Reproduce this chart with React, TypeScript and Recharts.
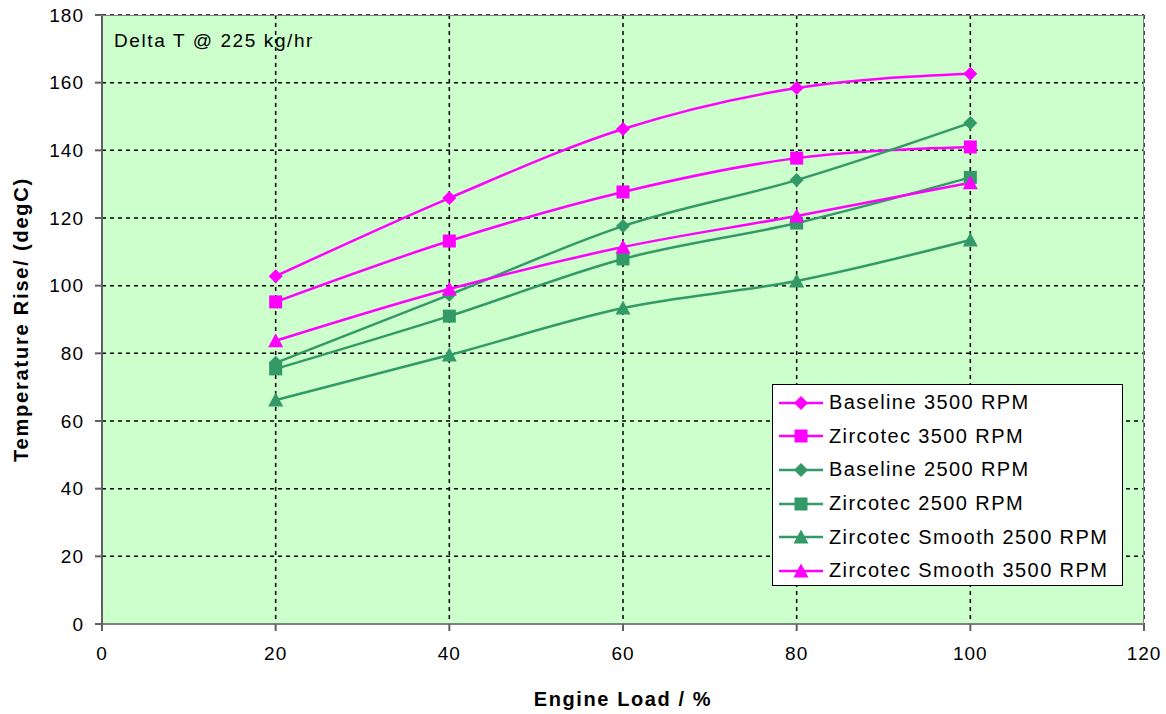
import {
  LineChart,
  Line,
  XAxis,
  YAxis,
  CartesianGrid,
  Label,
} from "recharts";

const loads = [20, 40, 60, 80, 100];
const baseline3500 = [102.8, 125.9, 146.3, 158.4, 162.6];
const zircotec3500 = [95.2, 113.2, 127.7, 137.7, 141.0];
const baseline2500 = [77.2, 97.3, 117.6, 131.2, 148.1];
const zircotec2500 = [75.4, 91.0, 107.9, 118.5, 132.0];
const smooth2500 = [66.2, 79.5, 93.4, 101.4, 113.5];
const smooth3500 = [83.7, 99.0, 111.4, 120.6, 130.4];

const xTicks = [0, 20, 40, 60, 80, 100, 120];
const yTicks = [0, 20, 40, 60, 80, 100, 120, 140, 160, 180];

const MAGENTA = "#ff00ff";
const GREEN = "#339966";
const FONT = "'Liberation Sans', Arial, sans-serif";

type Shape = "diamond" | "square" | "triangle";

const seriesDefs: { key: string; name: string; color: string; shape: Shape; values: number[] }[] = [
  { key: "b35", name: "Baseline 3500 RPM", color: MAGENTA, shape: "diamond", values: baseline3500 },
  { key: "z35", name: "Zircotec 3500 RPM", color: MAGENTA, shape: "square", values: zircotec3500 },
  { key: "b25", name: "Baseline 2500 RPM", color: GREEN, shape: "diamond", values: baseline2500 },
  { key: "z25", name: "Zircotec 2500 RPM", color: GREEN, shape: "square", values: zircotec2500 },
  { key: "s25", name: "Zircotec Smooth 2500 RPM", color: GREEN, shape: "triangle", values: smooth2500 },
  { key: "s35", name: "Zircotec Smooth 3500 RPM", color: MAGENTA, shape: "triangle", values: smooth3500 },
];

const data = loads.map((load, i) => {
  const row: Record<string, number> = { load };
  seriesDefs.forEach((s) => (row[s.key] = s.values[i]));
  return row;
});

function Marker({ cx, cy, shape, color }: { cx: number; cy: number; shape: Shape; color: string }) {
  if (cx == null || cy == null) return null;
  if (shape === "diamond") {
    const r = 7;
    return <polygon points={`${cx},${cy - r} ${cx + r},${cy} ${cx},${cy + r} ${cx - r},${cy}`} fill={color} />;
  }
  if (shape === "square") {
    const r = 6.5;
    return <rect x={cx - r} y={cy - r} width={r * 2} height={r * 2} fill={color} />;
  }
  const r = 7.5;
  return <polygon points={`${cx},${cy - r} ${cx + r},${cy + r - 1} ${cx - r},${cy + r - 1}`} fill={color} />;
}

function LegendBox() {
  return (
    <div
      style={{
        position: "absolute",
        left: 772,
        top: 384,
        width: 351,
        height: 202,
        background: "#fff",
        border: "1px solid #000",
        boxSizing: "border-box",
        fontFamily: FONT,
        fontSize: 20,
        letterSpacing: 1.4,
        color: "#000",
        padding: "1px 0 0 6px",
      }}
    >
      {seriesDefs.map((s) => (
        <div key={s.key} style={{ display: "flex", alignItems: "center", height: 33.6 }}>
          <svg width={46} height={20} style={{ marginRight: 4 }}>
            <line x1={0} y1={10} x2={44} y2={10} stroke={s.color} strokeWidth={2.5} />
            <Marker cx={22} cy={10} shape={s.shape} color={s.color} />
          </svg>
          <span>{s.name}</span>
        </div>
      ))}
    </div>
  );
}

export default function App() {
  return (
    <div style={{ position: "absolute", left: 0, top: 0, width: 1166, height: 714, background: "#fff" }}>
      <LineChart
        width={1166}
        height={714}
        data={data}
        margin={{ top: 15, right: 22, left: 0, bottom: 0 }}
      >
        <CartesianGrid
          stroke="#000"
          strokeDasharray="4 4"
          strokeWidth={1.5}
          fill="#ccffcc"
          fillOpacity={1}
        />
        <XAxis
          dataKey="load"
          type="number"
          domain={[0, 120]}
          ticks={xTicks}
          height={90}
          axisLine={{ stroke: "#808080", strokeWidth: 2 }}
          tickLine={{ stroke: "#606060", strokeWidth: 2 }}
          tickSize={7}
          tick={{ fill: "#000", fontSize: 19, fontFamily: FONT, letterSpacing: 1 }}
          tickMargin={16}
        >
          <Label
            value="Engine Load / %"
            position="insideBottom"
            offset={8}
            style={{ fill: "#000", fontSize: 20, fontWeight: "bold", fontFamily: FONT, letterSpacing: 1.6 }}
          />
        </XAxis>
        <YAxis
          type="number"
          domain={[0, 180]}
          ticks={yTicks}
          width={102}
          axisLine={{ stroke: "#606060", strokeWidth: 2 }}
          tickLine={{ stroke: "#606060", strokeWidth: 2 }}
          tickSize={7}
          tick={{ fill: "#000", fontSize: 19, fontFamily: FONT, letterSpacing: 1 }}
          tickMargin={11}
        >
          <Label
            value="Temperature Rise/ (degC)"
            angle={-90}
            position="insideLeft"
            offset={21}
            style={{ fill: "#000", fontSize: 20, fontWeight: "bold", fontFamily: FONT, textAnchor: "middle", letterSpacing: 1.8 }}
          />
        </YAxis>
        {seriesDefs.map((s) => (
          <Line
            key={s.key}
            type="monotone"
            dataKey={s.key}
            name={s.name}
            stroke={s.color}
            strokeWidth={2.5}
            isAnimationActive={false}
            dot={(p: any) => <Marker key={`${s.key}-${p.index}`} cx={p.cx} cy={p.cy} shape={s.shape} color={s.color} />}
            activeDot={false}
          />
        ))}
      </LineChart>
      <div
        style={{
          position: "absolute",
          left: 114,
          top: 30,
          fontFamily: FONT,
          fontSize: 19,
          letterSpacing: 1.6,
          color: "#000",
        }}
      >
        Delta T @ 225 kg/hr
      </div>
      <div
        style={{
          position: "absolute",
          left: 101,
          top: 15,
          width: 1043,
          height: 609,
          border: "1px solid #808080",
          borderLeft: "none",
          borderBottom: "none",
          boxSizing: "border-box",
          pointerEvents: "none",
        }}
      />
      <LegendBox />
    </div>
  );
}
